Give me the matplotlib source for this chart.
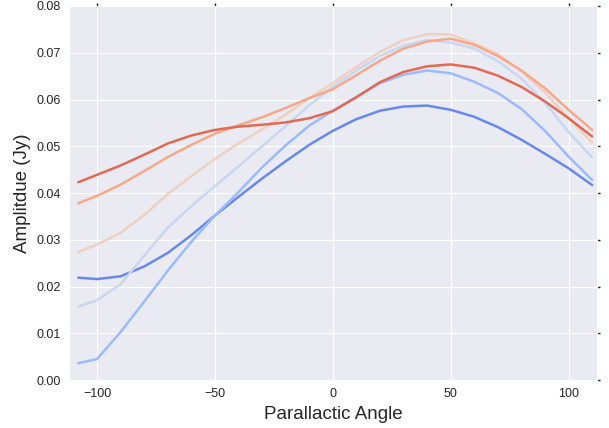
import numpy as np
import matplotlib
matplotlib.use("Agg")
import matplotlib.pyplot as plt
import seaborn as sns

# ---- Datos ----
angulo = [-108, -100, -90, -80, -70, -60, -50, -40, -30, -20, -10, 0,
          10, 20, 30, 40, 50, 60, 70, 80, 90, 100, 110]

amp_1 = [0.0219, 0.0216, 0.0222, 0.0243, 0.0272, 0.0310, 0.0352, 0.0392,
         0.0431, 0.0468, 0.0503, 0.0533, 0.0558, 0.0576, 0.0585, 0.0587,
         0.0578, 0.0563, 0.0541, 0.0514, 0.0484, 0.0453, 0.0417]
amp_2 = [0.0036, 0.0045, 0.0103, 0.0168, 0.0234, 0.0296, 0.0352, 0.0402,
         0.0455, 0.0502, 0.0544, 0.0576, 0.0605, 0.0635, 0.0653, 0.0662,
         0.0656, 0.0638, 0.0614, 0.0580, 0.0533, 0.0478, 0.0428]
amp_3 = [0.0157, 0.0171, 0.0205, 0.0266, 0.0326, 0.0372, 0.0415, 0.0457,
         0.0500, 0.0543, 0.0588, 0.0627, 0.0662, 0.0693, 0.0715, 0.0727,
         0.0722, 0.0709, 0.0682, 0.0645, 0.0593, 0.0531, 0.0476]
amp_4 = [0.0274, 0.0290, 0.0315, 0.0353, 0.0398, 0.0436, 0.0473, 0.0506,
         0.0536, 0.0568, 0.0603, 0.0635, 0.0670, 0.0702, 0.0727, 0.0740,
         0.0739, 0.0720, 0.0697, 0.0660, 0.0615, 0.0560, 0.0508]
amp_5 = [0.0378, 0.0394, 0.0418, 0.0447, 0.0477, 0.0503, 0.0527, 0.0545,
         0.0562, 0.0582, 0.0603, 0.0622, 0.0652, 0.0683, 0.0709, 0.0724,
         0.0730, 0.0717, 0.0693, 0.0662, 0.0624, 0.0578, 0.0535]
amp_6 = [0.0423, 0.0439, 0.0459, 0.0482, 0.0506, 0.0523, 0.0535, 0.0542,
         0.0546, 0.0551, 0.0560, 0.0575, 0.0605, 0.0637, 0.0659, 0.0671,
         0.0675, 0.0668, 0.0651, 0.0627, 0.0596, 0.0560, 0.0521]

series = [amp_1, amp_2, amp_3, amp_4, amp_5, amp_6]
# ----------------------------------

sns.set_style("darkgrid")
plt.rcParams['font.family'] = ['Liberation Sans', 'DejaVu Sans']

colores = sns.color_palette("coolwarm", len(series))

fig = plt.figure(figsize=(6.09, 4.28), dpi=100)
ax = fig.add_axes([0.113, 0.112, 0.867, 0.874])

for amp, c in zip(series, colores):
    ax.plot(angulo, amp, color=c, lw=1.8)

ax.set_xlim(-112, 112)
ax.set_ylim(0, 0.08)
ax.set_xticks([-100, -50, 0, 50, 100])
ax.set_xticklabels(["\u2212100", "\u221250", "0", "50", "100"])
ax.set_yticks(np.arange(0, 0.081, 0.01))
ax.set_yticklabels(["%.2f" % v for v in np.arange(0, 0.081, 0.01)])
ax.tick_params(which='both', top=True, right=True, length=2, width=1,
               color='#222222', labelsize=9, labelcolor='#262626', pad=4)

ax.set_xlabel('Parallactic Angle', fontsize=13.5, color='#262626')
ax.set_ylabel('Amplitdue (Jy)', fontsize=13.5, color='#262626')

fig.savefig('out.png', dpi=100)
